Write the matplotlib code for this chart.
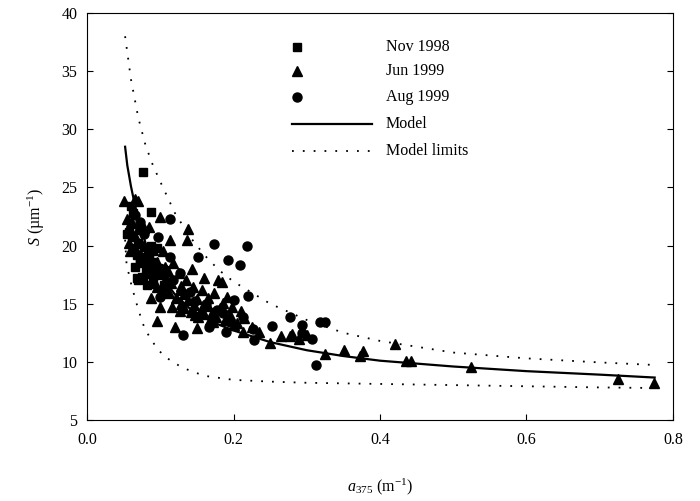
import numpy as np
import matplotlib
matplotlib.use("Agg")
import matplotlib.pyplot as plt

plt.rcParams['font.family'] = ['Liberation Serif', 'DejaVu Serif']
plt.rcParams['mathtext.fontset'] = 'custom'
plt.rcParams['mathtext.rm'] = 'Liberation Serif'
plt.rcParams['mathtext.it'] = 'Liberation Serif:italic'

# Nov 1998 (squares)
nov_x = [0.076, 0.088, 0.054, 0.058, 0.062, 0.068, 0.072, 0.066, 0.075, 0.080, 0.070, 0.078,
         0.085, 0.090, 0.095, 0.063, 0.060, 0.082, 0.092, 0.100, 0.105, 0.070, 0.088, 0.068,
         0.076, 0.072, 0.083, 0.064, 0.097]
nov_y = [26.3, 22.9, 21.0, 21.2, 20.8, 19.2, 18.5, 18.2, 17.3, 17.8, 20.2, 19.0,
         18.3, 17.2, 19.8, 22.8, 23.4, 16.6, 18.6, 17.5, 16.6, 17.0, 20.0, 17.2,
         17.2, 18.8, 19.5, 19.8, 18.1]

# Jun 1999 (triangles)
jun_x = [0.050, 0.066, 0.070, 0.060, 0.0997, 0.138, 0.136, 0.084, 0.113, 0.059, 0.065, 0.074,
         0.078, 0.090, 0.104, 0.118, 0.143, 0.160, 0.184, 0.179, 0.173, 0.157, 0.191, 0.088,
         0.0997, 0.095, 0.120, 0.150, 0.116, 0.127, 0.198, 0.129, 0.127, 0.213, 0.250, 0.277,
         0.289, 0.293, 0.325, 0.351, 0.377, 0.420, 0.436, 0.442, 0.524, 0.725, 0.774,
         0.082, 0.086, 0.092, 0.098, 0.102, 0.108, 0.112, 0.115, 0.122, 0.128, 0.133, 0.138,
         0.142, 0.146, 0.150, 0.155, 0.160, 0.165, 0.170, 0.176, 0.182, 0.188, 0.195, 0.205,
         0.215, 0.225, 0.235, 0.165, 0.145, 0.135, 0.125, 0.106, 0.095, 0.078, 0.070, 0.062,
         0.055, 0.058, 0.074, 0.152, 0.158, 0.168, 0.210, 0.200, 0.280, 0.300, 0.265, 0.373,
         0.088, 0.096, 0.110, 0.132, 0.148, 0.172, 0.186]
jun_y = [23.8, 24.0, 23.8, 22.0, 22.5, 21.4, 20.5, 21.6, 20.5, 19.5, 20.8, 20.2,
         21.5, 19.6, 19.5, 18.5, 18.0, 17.2, 16.9, 17.0, 15.9, 16.2, 15.6, 15.5,
         14.75, 13.5, 13.0, 12.9, 14.75, 16.2, 14.75, 16.5, 14.4, 12.6, 11.65, 12.2,
         12.0, 12.6, 10.7, 11.0, 10.9, 11.5, 10.1, 10.1, 9.6, 8.5, 8.15,
         18.2, 17.6, 16.8, 17.9, 16.2, 17.2, 15.9, 16.8, 15.5, 15.0, 14.6, 15.3,
         14.3, 14.9, 15.4, 14.5, 14.1, 14.8, 14.2, 13.9, 14.6, 13.6, 14.0, 13.3,
         13.8, 13.0, 12.6, 15.5, 16.4, 17.0, 17.6, 18.2, 18.6, 20.0, 21.4, 21.9,
         22.3, 20.2, 19.1, 13.9, 14.2, 13.6, 14.4, 13.2, 12.4, 12.3, 12.2, 10.5,
         18.9, 16.4, 17.8, 15.8, 14.0, 13.4, 15.1]

# Aug 1999 (circles)
aug_x = [0.113, 0.097, 0.173, 0.218, 0.193, 0.209, 0.152, 0.113, 0.220, 0.0997, 0.131, 0.166,
         0.190, 0.226, 0.228, 0.127, 0.200, 0.178, 0.213, 0.277, 0.293, 0.318, 0.325, 0.293,
         0.307, 0.312, 0.252, 0.066, 0.072, 0.085, 0.105, 0.118, 0.140, 0.148, 0.162, 0.185,
         0.195, 0.108, 0.090, 0.078]
aug_y = [22.3, 20.7, 20.1, 20.0, 18.8, 18.3, 19.05, 19.0, 15.7, 15.6, 12.3, 13.0,
         12.6, 12.8, 11.9, 17.6, 15.3, 14.5, 13.9, 13.9, 13.2, 13.4, 13.4, 12.5,
         12.0, 9.7, 13.1, 22.6, 22.0, 19.3, 18.0, 17.0, 16.0, 15.2, 15.0, 14.2,
         13.4, 16.4, 17.8, 21.0]

# model curve and limits
model_x = [0.052, 0.055, 0.06, 0.065, 0.07, 0.08, 0.09, 0.10, 0.12, 0.14, 0.16, 0.18, 0.20,
           0.25, 0.30, 0.35, 0.40, 0.50, 0.60, 0.70, 0.775]
model_y = [28.5, 26.9, 25.1, 23.6, 22.3, 20.2, 18.7, 17.5, 15.8, 14.6, 13.8, 13.2, 12.7,
           11.7, 11.0, 10.5, 10.1, 9.6, 9.2, 8.9, 8.65]
upper_x = [0.052, 0.06, 0.07, 0.08, 0.09, 0.10, 0.12, 0.14, 0.16, 0.18, 0.20, 0.25,
           0.30, 0.35, 0.40, 0.50, 0.60, 0.70, 0.775]
upper_y = [38.0, 34.3, 31.0, 28.6, 26.9, 25.5, 22.8, 20.8, 19.2, 17.9, 16.9, 15.0,
           13.6, 12.5, 11.8, 10.8, 10.3, 9.95, 9.73]
lower_x = [0.052, 0.054, 0.061, 0.07, 0.079, 0.095, 0.106, 0.13, 0.16, 0.20, 0.25, 0.30,
           0.40, 0.50, 0.60, 0.70, 0.775]
lower_y = [20.5, 18.4, 16.5, 14.5, 12.8, 11.2, 10.45, 9.5, 8.8, 8.45, 8.3, 8.2,
           8.1, 8.0, 7.9, 7.8, 7.75]

fig = plt.figure(figsize=(7.0, 5.01), dpi=100)
ax = fig.add_axes([0.1243, 0.1617, 0.8371, 0.8123])

ax.plot(upper_x, upper_y, color='black', lw=1.3, ls=(0, (1, 5)))
ax.plot(lower_x, lower_y, color='black', lw=1.3, ls=(0, (1, 5)))
ax.plot(jun_x, jun_y, '^', color='black', ms=7, ls='none')
ax.plot(aug_x, aug_y, 'o', color='black', ms=6.5, ls='none')
ax.plot(nov_x, nov_y, 's', color='black', ms=5.6, ls='none')
ax.plot(model_x, model_y, color='black', lw=1.6)

ax.set_xlim(0, 0.8)
ax.set_ylim(5, 40)
ax.set_xticks([0.0, 0.2, 0.4, 0.6, 0.8])
ax.set_yticks(range(5, 41, 5))
ax.tick_params(direction='in', length=4, labelsize=11.5, right=True, top=False)
ax.tick_params(axis='x', pad=9)
ax.tick_params(axis='y', pad=7)

ax.set_ylabel(r'$S$ (µm$^{-1}$)', fontsize=11.5, labelpad=10)
ax.set_xlabel(r'$a_{\mathit{375}}$ (m$^{-1}$)', fontsize=11.5, labelpad=20)

# legend drawn by hand so the markers sit at the left of the handle
leg_rows = [0.916, 0.857, 0.794, 0.727, 0.662]
kw = dict(transform=ax.transAxes, color='black', clip_on=False)
ax.plot([0.358], [leg_rows[0]], 's', ms=5.6, **kw)
ax.plot([0.358], [leg_rows[1]], '^', ms=7, **kw)
ax.plot([0.358], [leg_rows[2]], 'o', ms=6.5, **kw)
ax.plot([0.350, 0.486], [leg_rows[3]] * 2, lw=1.6, **kw)
ax.plot([0.350, 0.486], [leg_rows[4]] * 2, lw=1.3, ls=(0, (1, 5)), **kw)
for y, name in zip(leg_rows, ['Nov 1998', 'Jun 1999', 'Aug 1999', 'Model', 'Model limits']):
    ax.text(0.510, y, name, transform=ax.transAxes, fontsize=11.5, va='center', ha='left')

fig.savefig('out.png', dpi=100)
